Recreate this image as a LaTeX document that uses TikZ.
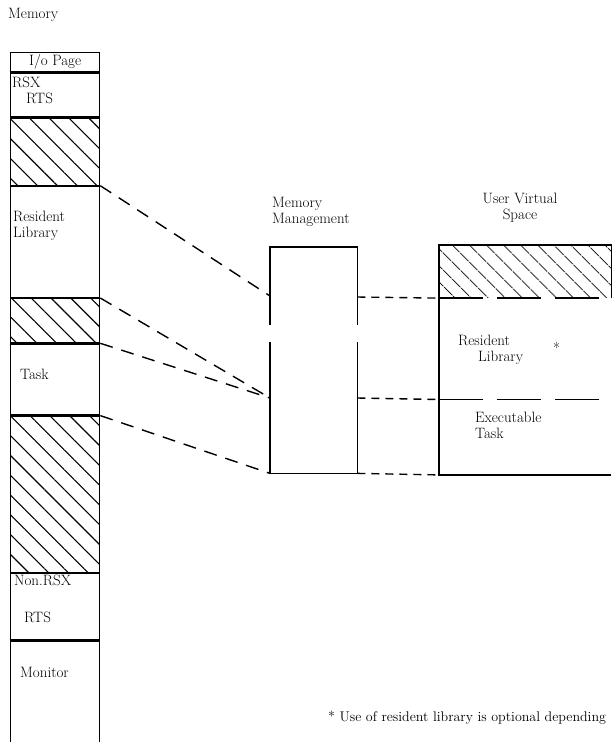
\documentclass[tikz,border=0pt]{standalone}
\usetikzlibrary{calc,patterns.meta}
\tikzset{
  seg/.style={rectangle, draw, line width=1.3pt, minimum width=89pt, inner sep=0pt, anchor=north west},
  hatch/.style={seg, pattern={Lines[angle=-45, distance=14pt, line width=1.1pt]}},
  area/.style={rectangle, inner sep=0pt, anchor=north west},
  link/.style={line width=1.4pt, dash pattern=on 13pt off 9pt},
  tie/.style={line width=1.4pt, dash pattern=on 8pt off 6pt},
  divider/.style={line width=1.3pt, dash pattern=on 44pt off 14pt},
  outline/.style={line width=1.4pt},
  txt/.style={font=\fontsize{15}{16}\selectfont, inner sep=0pt, anchor=west, align=left},
}
\begin{document}
\begin{tikzpicture}[x=1pt, y=-1pt]
\useasboundingbox (0,0) rectangle (612,742);

% memory column
\node[txt] (memtitle) at (8,15) {Memory};
\node[seg, minimum height=19pt] (iopage) at (10,52) {};
\node[seg, minimum height=44pt] (rsxrts) at (iopage.south west) {};
\node[hatch, minimum height=67pt] (hatchA) at (rsxrts.south west) {};
\node[seg, minimum height=111pt] (reslib) at (hatchA.south west) {};
\node[hatch, minimum height=44pt] (hatchB) at (reslib.south west) {};
\node[seg, minimum height=71pt] (task) at (hatchB.south west) {};
\node[hatch, minimum height=156pt] (hatchC) at (task.south west) {};
\node[seg, minimum height=66pt] (nonrsx) at (hatchC.south west) {};
\node[seg, minimum height=130pt] (monitor) at (nonrsx.south west) {};

\node[txt, anchor=center] (iotxt) at (iopage) {I/o Page};
\node[txt] (rsxtxt) at (12,82) {RSX};
\node[txt] (rtstxt) at (26,98) {RTS};
\node[txt] (libtxt) at (13,226) {Resident\\Library};
\node[txt] (tasktxt) at (20,374) {Task};
\node[txt] (nonrsxtxt) at (14,580) {Non.RSX};
\node[txt] (rtstxtB) at (24,617) {RTS};
\node[txt] (montxt) at (20,672) {Monitor};

% memory management
\node[txt] (mmtitle) at (272,212) {Memory\\Management};
\node[area, minimum width=87pt, minimum height=226pt] (mm) at (270,247) {};
\draw[outline] ($(mm.north west)+(0,78)$) -- (mm.north west) -- (mm.north east) -- ($(mm.north east)+(0,78)$);
\draw[outline] ($(mm.north west)+(0,95)$) -- (mm.south west) -- (mm.south east) -- ($(mm.north east)+(0,95)$);
\coordinate (mminA) at ($(mm.north west)+(0,49)$);
\coordinate (mminB) at ($(mm.north west)+(0,151)$);
\coordinate (mmoutA) at ($(mm.north east)+(0,50)$);
\coordinate (mmoutB) at ($(mm.north east)+(0,151)$);

\draw[link] (reslib.north east) -- (mminA);
\draw[link] (reslib.south east) -- (mminB);
\draw[link] (hatchB.south east) -- (mminB);
\draw[link] (hatchC.north east) -- (mm.south west);

% user virtual space
\node[txt, anchor=center, align=center] (uvtitle) at (520,208) {User Virtual\\Space};
\node[area, minimum width=172pt, minimum height=52pt,
      pattern={Lines[angle=-45, distance=13pt, line width=1.1pt]}] (band) at (439,245) {};
\node[area, minimum width=172pt, minimum height=101pt] (uvlib) at (band.south west) {};
\node[area, minimum width=172pt, minimum height=75pt] (uvtask) at (uvlib.south west) {};
\draw[outline] (band.south east) -- (band.north east) -- (band.north west) -- (uvtask.south west) -- (uvtask.south east);
\draw[divider] (band.south west) -- (band.south east);
\draw[divider] (uvlib.south west) -- (uvlib.south east);

\draw[tie] (mmoutA) -- (band.south west);
\draw[tie] (mmoutB) -- (uvlib.south west);
\draw[tie] (mm.south east) -- (uvtask.south west);

\node[txt] (uvlibtxt) at (458,350) {Resident\\\hspace{20pt}Library};
\node[txt] (star) at (553,348) {*};
\node[txt] (uvtasktxt) at (475,425) {Executable\\Task};

\node[txt, font=\fontsize{14}{16}\selectfont] (note) at (328,718) {* Use of resident library is optional depending};
\end{tikzpicture}
\end{document}
